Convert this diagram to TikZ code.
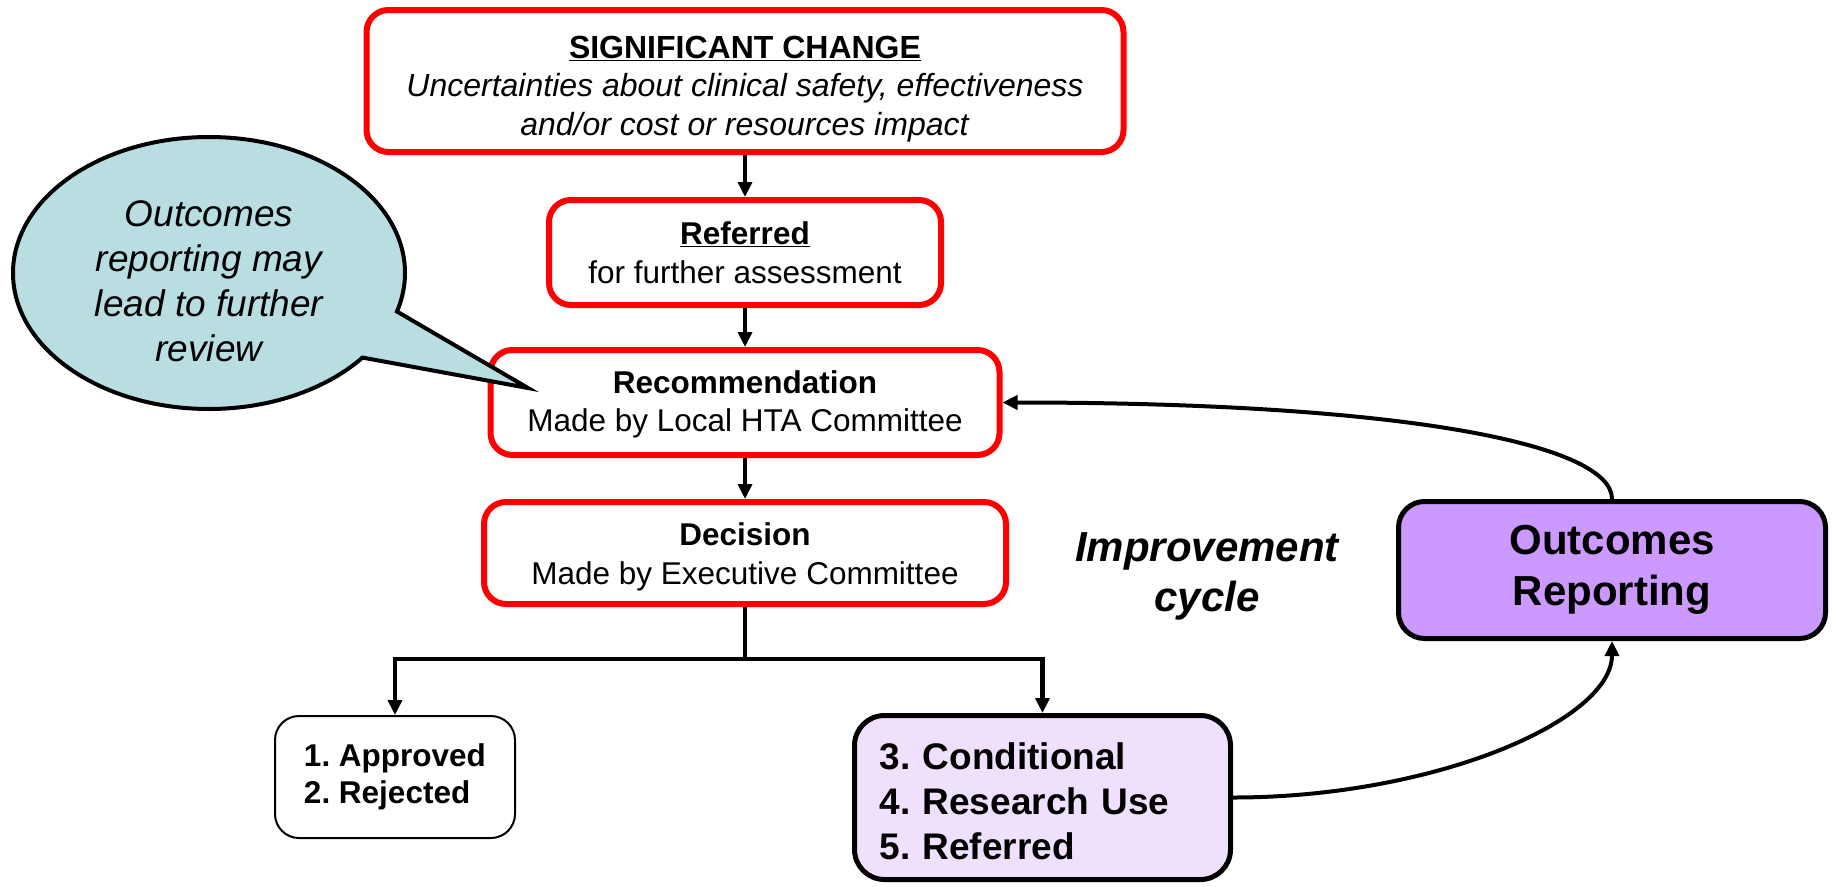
\documentclass[tikz,border=0pt]{standalone}
\usepackage{fontspec}
\setmainfont{Liberation Sans}
\usetikzlibrary{arrows.meta,shapes.callouts,shapes.geometric}
\definecolor{boxred}{RGB}{255,0,0}
\definecolor{bubblefill}{RGB}{184,222,226}
\definecolor{lavlight}{RGB}{239,224,253}
\definecolor{lavdark}{RGB}{204,153,255}
\frenchspacing
\tikzset{
  redbox/.style={draw=boxred, line width=6pt, rounded corners=22pt, fill=white, align=center, inner sep=0pt,
     font=\fontsize{31.5}{38.5}\selectfont},
  arr/.style={line width=3.5pt, -{Triangle[length=15pt,width=14pt]}},
  curvearr/.style={line width=4pt, -{Triangle[length=15pt,width=14pt]}},
}
\newcommand{\lift}[1]{\rule{0pt}{#1}}
\begin{document}
\begin{tikzpicture}[x=1pt,y=-1pt]
\useasboundingbox (0,0) rectangle (1835,886);

\node[redbox, minimum width=757pt, minimum height=142pt, font=\fontsize{32}{38.5}\selectfont] (top) at (745,81)
  {\lift{38pt}\textbf{\underline{SIGNIFICANT CHANGE}}\\ \textit{Uncertainties about clinical safety, effectiveness}\\ \textit{and/or cost or resources impact}};
\node[redbox, minimum width=392pt, minimum height=105pt] (ref) at (745,252.5)
  {\textbf{\underline{Referred}}\\ for further assessment};
\node[redbox, minimum width=509pt, minimum height=105pt] (rec) at (745,402.5)
  {\lift{27pt}\textbf{Recommendation}\\ Made by Local HTA Committee};
\node[redbox, minimum width=522pt, minimum height=102pt] (dec) at (745,553)
  {\lift{31pt}\textbf{Decision}\\ Made by Executive Committee};

\node[draw=black, line width=2pt, rounded corners=24pt, fill=white, minimum width=240pt, minimum height=122pt,
  align=left, font=\fontsize{31.5}{37}\selectfont\bfseries] (appr) at (395,777)
  {1. Approved\\ 2. Rejected};

\node[draw=black, line width=5pt, rounded corners=30pt, fill=lavlight, minimum width=376pt, minimum height=164pt,
  text width=326pt, inner xsep=25pt, inner ysep=0pt, align=left, font=\fontsize{37}{45}\selectfont\bfseries] (cond) at (1042.5,797.5)
  {\lift{35pt}3. Conditional\\ 4. Research Use\\ 5. Referred};

\node[draw=black, line width=5pt, rounded corners=26pt, fill=lavdark, minimum width=427pt, minimum height=137pt,
  align=center, font=\fontsize{42}{51}\selectfont\bfseries] (outc) at (1612,570)
  {Outcomes\\ Reporting};

\node[align=center, font=\fontsize{42}{50}\selectfont\bfseries\itshape] (cyc) at (1207,576)
  {Improvement\\ cycle};

\node[ellipse callout, draw=black, line width=4pt, fill=bubblefill, minimum width=392pt, minimum height=272pt,
  callout absolute pointer={(528,388)}, callout pointer arc=22, align=center, inner sep=0pt,
  font=\fontsize{37}{45}\selectfont\itshape] (bub) at (209,273)
  {\lift{42pt}Outcomes\\ reporting may\\ lead to further\\ review};

\draw[arr] (top.south) -- (ref.north);
\draw[arr] (ref.south) -- (rec.north);
\draw[arr] (rec.south) -- (dec.north);
\path (dec.south) ++(0,52) coordinate (br);
\draw[line width=4.5pt] (dec.south) -- (br);
\draw[arr, line width=4.5pt] (br) -| (appr.north);
\draw[arr, line width=4.5pt] (br) -| (cond.north);

\draw[curvearr] (outc.north) .. controls +(0,-55) and +(400,0) .. (rec.east);
\draw[curvearr] (cond.east) .. controls +(200,0) and +(0,80) .. (outc.south);
\end{tikzpicture}
\end{document}
